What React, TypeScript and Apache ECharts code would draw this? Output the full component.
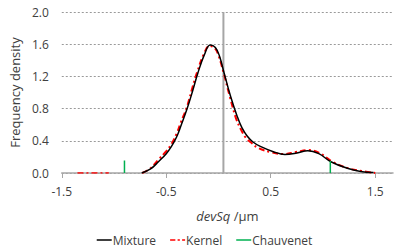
import React, { useEffect, useRef } from "react";
import * as echarts from "echarts";

const mixtureX = [-0.735, -0.65, -0.575, -0.5, -0.45, -0.4, -0.356, -0.3, -0.245, -0.198, -0.135, -0.08, -0.03, 0.01, 0.054, 0.116, 0.18, 0.225, 0.274, 0.33, 0.4, 0.525, 0.635, 0.74, 0.855, 0.96, 1.075, 1.233, 1.36, 1.484];
const mixtureY = [0, 0.05, 0.14, 0.24, 0.33, 0.45, 0.6, 0.8, 1.03, 1.24, 1.47, 1.59, 1.56, 1.45, 1.24, 0.95, 0.7, 0.56, 0.46, 0.385, 0.33, 0.265, 0.23, 0.245, 0.277, 0.24, 0.14, 0.058, 0.02, 0.005];

const kernelTailX = [-1.35, -1.05];
const kernelTailY = [0, 0];
const kernelX = [-0.73, -0.65, -0.58, -0.5, -0.45, -0.4, -0.36, -0.3, -0.25, -0.2, -0.14, -0.085, -0.035, 0.0, 0.05, 0.11, 0.17, 0.215, 0.26, 0.32, 0.38, 0.5, 0.62, 0.74, 0.86, 0.97, 1.09, 1.24, 1.37, 1.5];
const kernelY = [0, 0.06, 0.16, 0.27, 0.36, 0.49, 0.63, 0.83, 1.06, 1.27, 1.48, 1.58, 1.55, 1.46, 1.24, 0.94, 0.67, 0.54, 0.44, 0.37, 0.31, 0.26, 0.235, 0.26, 0.285, 0.245, 0.14, 0.06, 0.025, 0];

const chauvenetX = [-0.9, 1.07];
const chauvenetY = [0.155, 0.15];

const crossX = 0.047;
const xTicks = [-1.5, -0.5, 0.5, 1.5];

const zip = (xs: number[], ys: number[]) => xs.map((x, i) => [x, ys[i]]);

export default function App() {
  const ref = useRef<HTMLDivElement>(null);
  useEffect(() => {
    if (!ref.current) return;
    const chart = echarts.init(ref.current, null, { renderer: "svg" });
    const font = "Open Sans";
    const textColor = "#404040";
    const solidIcon = "path://M0,0h20v2h-20z";
    const dashIcon = "path://M0,0h7v2h-7z M10,0h3v2h-3z M16,0h4v2h-4z";
    chart.setOption({
      animation: false,
      textStyle: { fontFamily: font },
      grid: { left: 57, right: 16, top: 12, bottom: 78 },
      legend: {
        bottom: 0,
        left: "center",
        data: [
          { name: "Mixture", icon: solidIcon },
          { name: "Kernel", icon: dashIcon },
          { name: "Chauvenet", icon: solidIcon },
        ],
        itemWidth: 15,
        itemHeight: 2,
        itemGap: 14,
        textStyle: { fontFamily: font, fontSize: 12, color: textColor, padding: [0, 0, 0, -4] },
      },
      xAxis: {
        type: "value",
        min: -1.5,
        max: 1.67,
        name: "{i|devSq} /µm",
        nameLocation: "middle",
        nameGap: 36,
        nameTextStyle: {
          fontFamily: font,
          fontSize: 13,
          color: textColor,
          rich: { i: { fontStyle: "italic", fontFamily: font, fontSize: 13, color: textColor } },
        },
        axisLine: { lineStyle: { color: "#a6a6a6", width: 1.5 } },
        axisTick: { customValues: xTicks, length: 5, lineStyle: { color: "#a6a6a6" } },
        axisLabel: { customValues: xTicks, fontSize: 12, color: textColor, margin: 12, formatter: (v: number) => v.toFixed(1) },
        splitLine: { show: false },
      },
      yAxis: {
        type: "value",
        min: 0,
        max: 2,
        interval: 0.4,
        name: "Frequency density",
        nameLocation: "middle",
        nameGap: 40,
        nameTextStyle: { fontFamily: font, fontSize: 13, color: textColor },
        axisLine: { show: false },
        axisTick: { show: false },
        axisLabel: { fontSize: 12, color: textColor, margin: 13, formatter: (v: number) => v.toFixed(1) },
        splitLine: { lineStyle: { color: "#9a9a9a", type: [2, 2], width: 1 } },
      },
      series: [
        {
          name: "cross",
          type: "line",
          data: [[crossX, 0], [crossX, 2]],
          symbol: "none",
          lineStyle: { color: "#a6a6a6", width: 2 },
          z: 1,
          silent: true,
        },
        {
          name: "Kernel",
          type: "line",
          data: zip(kernelTailX, kernelTailY),
          symbol: "none",
          lineStyle: { color: "#ff0000", width: 1.5, type: [6, 3, 2, 3] },
          itemStyle: { color: "#ff0000" },
          z: 2,
        },
        {
          name: "Kernel",
          type: "line",
          data: zip(kernelX, kernelY),
          symbol: "none",
          smooth: 0.4,
          lineStyle: { color: "#ff0000", width: 2, type: [6, 3, 2, 3] },
          itemStyle: { color: "#ff0000" },
          z: 2,
        },
        {
          name: "Mixture",
          type: "line",
          data: zip(mixtureX, mixtureY),
          symbol: "none",
          smooth: 0.4,
          lineStyle: { color: "#000000", width: 1.5 },
          itemStyle: { color: "#000000" },
          z: 3,
        },
        ...chauvenetX.map((x, i) => ({
          name: "Chauvenet",
          type: "line",
          data: [[x, 0], [x, chauvenetY[i]]],
          symbol: "none",
          lineStyle: { color: "#00b050", width: 1.5 },
          itemStyle: { color: "#00b050" },
          z: 4,
        })),
      ],
    });
    return () => chart.dispose();
  }, []);
  return <div ref={ref} style={{ width: 409, height: 251, position: "absolute", left: 0, top: 0 }} />;
}
